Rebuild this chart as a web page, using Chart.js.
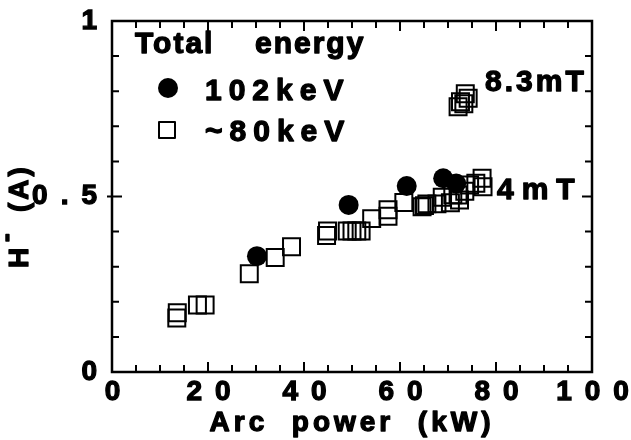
<!DOCTYPE html>
<html><head><meta charset="utf-8">
<script src="https://cdn.jsdelivr.net/npm/chart.js@4"></script>
<style>html,body{margin:0;padding:0;background:#fff;}</style>
</head><body>
<canvas id="c" width="631" height="440"></canvas>
<script>
// ---- data ----
const xTickValues = [0, 20, 40, 60, 80, 100];
const yTickValues = [0, 0.5, 1];

// 102 keV (filled circles)
const power102 = [30.2, 49.3, 61.4, 69.0, 71.7];
const current102 = [0.330, 0.476, 0.530, 0.552, 0.537];

// ~80 keV (open squares)
const power80 = [13.6, 13.5, 17.8, 19.4, 28.6, 34.0, 37.4, 44.9, 44.7,
  49.0, 50.0, 51.0, 51.9, 54.1, 57.5, 57.5, 60.8, 64.6, 65.1, 65.6,
  67.7, 68.8, 70.5, 71.0, 72.1, 72.4, 73.5, 74.5, 75.8, 77.1, 77.3,
  72.1, 72.6, 73.3, 73.6, 74.2];
const current80 = [0.169, 0.154, 0.191, 0.191, 0.280, 0.326, 0.357, 0.402, 0.389,
  0.402, 0.402, 0.402, 0.402, 0.437, 0.462, 0.444, 0.483, 0.471, 0.474, 0.479,
  0.479, 0.498, 0.482, 0.505, 0.504, 0.490, 0.515, 0.533, 0.538, 0.552, 0.528,
  0.756, 0.770, 0.764, 0.793, 0.780];

const xTitle = 'Arc  power  (kW)';
const legendTitle1 = 'Total';
const legendTitle2 = 'energy';
const series1Label = '102keV';
const series2Label = '~80keV';
const note1 = '8.3mT';
const note2 = '4mT';

const FONT = '"Liberation Sans", Arial, sans-serif';
const toPts = (xs, ys) => xs.map((v, i) => ({x: v, y: ys[i]}));

function txt(ctx, s, x, y, size, spacing, align) {
  ctx.font = 'bold ' + size + 'px ' + FONT;
  ctx.letterSpacing = spacing + 'px';
  ctx.textAlign = align || 'left';
  ctx.textBaseline = 'alphabetic';
  ctx.fillStyle = '#000';
  ctx.strokeStyle = '#000';
  ctx.lineWidth = 1.3;
  ctx.lineJoin = 'round';
  ctx.strokeText(s, x, y);
  ctx.fillText(s, x, y);
}

const decor = {
  id: 'decor',
  beforeDraw(chart) { chart.ctx.letterSpacing = '13px'; },
  afterDraw(chart) {
    const ctx = chart.ctx;
    const xs = chart.scales.x, ys = chart.scales.y;
    const {left, right, top, bottom} = chart.chartArea;
    ctx.save();
    ctx.letterSpacing = '0px';
    ctx.strokeStyle = '#000';
    ctx.lineWidth = 2.5;
    ctx.strokeRect(left, top, right - left, bottom - top);
    ctx.lineWidth = 2;
    ctx.beginPath();
    for (let v = xs.min; v <= xs.max + 1e-9; v += 5) {
      const px = xs.getPixelForValue(v);
      const len = (Math.round(v) % 20 === 0) ? 10 : 7;
      ctx.moveTo(px, bottom); ctx.lineTo(px, bottom - len);
      ctx.moveTo(px, top); ctx.lineTo(px, top + len);
    }
    for (let k = 0; k <= 10; k++) {
      const v = k / 10;
      const py = ys.getPixelForValue(v);
      const len = (k === 5) ? 10 : 7;
      ctx.moveTo(k === 5 ? left - 5 : left, py); ctx.lineTo(left + len, py);
      ctx.moveTo(right, py); ctx.lineTo(right - len, py);
    }
    ctx.stroke();

    // axis titles
    txt(ctx, xTitle, (left + right) / 2, 431, 28, 4, 'center');
    ctx.save();
    ctx.translate(28, 268);
    ctx.rotate(-Math.PI / 2);
    txt(ctx, 'H', 0, 0, 28, 0, 'left');
    txt(ctx, '-', 26, -14, 26, 0, 'left');
    txt(ctx, '(A)', 56, 0, 28, 3, 'left');
    ctx.restore();

    // legend block
    txt(ctx, legendTitle1, 135, 53, 30, 2);
    txt(ctx, legendTitle2, 255, 53, 30, 2);
    ctx.beginPath();
    ctx.arc(168, 88, 10, 0, Math.PI * 2);
    ctx.fillStyle = '#000';
    ctx.fill();
    txt(ctx, series1Label, 205, 100, 30, 7);
    ctx.lineWidth = 2;
    ctx.strokeRect(159, 122, 16, 16);
    txt(ctx, series2Label, 205, 141, 30, 7);

    // field annotations
    txt(ctx, note1, 485, 91, 30, 3);
    txt(ctx, note2, 497, 199, 30, 8);
    ctx.restore();
    ctx.letterSpacing = '0px';
  }
};

new Chart(document.getElementById('c'), {
  type: 'scatter',
  data: {
    datasets: [
      {label: series1Label, data: toPts(power102, current102), pointStyle: 'circle',
       pointRadius: 10, pointBackgroundColor: '#000', pointBorderColor: '#000', pointBorderWidth: 0},
      {label: series2Label, data: toPts(power80, current80), pointStyle: 'rect',
       pointRadius: 12, pointBackgroundColor: 'rgba(0,0,0,0)', pointBorderColor: '#000', pointBorderWidth: 2}
    ]
  },
  options: {
    responsive: false, animation: false, devicePixelRatio: 1,
    layout: {padding: {top: 21, right: 39, left: 0, bottom: 0}},
    plugins: {legend: {display: false}, tooltip: {enabled: false}},
    scales: {
      x: {
        type: 'linear', min: 0, max: 100,
        afterFit: s => { s.height = 68; },
        afterBuildTicks: s => { s.ticks = xTickValues.map(v => ({value: v})); },
        grid: {display: false, drawTicks: false}, border: {display: false},
        ticks: {color: '#000', padding: 3, labelOffset: 7, maxRotation: 0, autoSkip: false,
                textStrokeColor: '#000', textStrokeWidth: 1.3,
                font: {family: FONT, weight: 'bold', size: 28}}
      },
      y: {
        type: 'linear', min: 0, max: 1,
        afterFit: s => { s.width = 112; },
        afterBuildTicks: s => { s.ticks = yTickValues.map(v => ({value: v})); },
        grid: {display: false, drawTicks: false}, border: {display: false},
        ticks: {color: '#000', padding: 2, autoSkip: false,
                textStrokeColor: '#000', textStrokeWidth: 1.3,
                callback: v => String(v),
                font: {family: FONT, weight: 'bold', size: 28}}
      }
    }
  },
  plugins: [decor]
});
</script>
</body></html>
